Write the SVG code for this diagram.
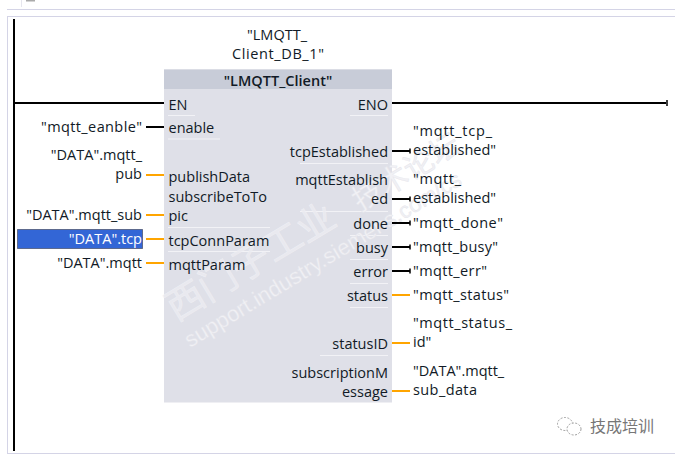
<svg xmlns="http://www.w3.org/2000/svg" width="675" height="456" viewBox="0 0 675 456">
<style>
text{font-family:"Open Sans","Noto Sans","Noto Sans CJK SC",sans-serif;font-size:14.5px;fill:#111a26}
.r{text-anchor:end}
.c{text-anchor:middle}
.wm{fill:#ebebf1;stroke:#f4f4f8;stroke-width:.4;opacity:.85}
.wo{fill:#f1f1f5;stroke:#e4e4ea;stroke-width:.4}
.frame{stroke:#d4d4e6;fill:none;stroke-width:1}
.b{stroke:#000;stroke-width:2;fill:none}
.o{stroke:#ffa500;stroke-width:2;fill:none}
.cap{stroke:#000;stroke-width:1.500;fill:none}
.sep{stroke:#f2f2f6;stroke-width:1;fill:none}
</style>
<rect width="675" height="456" fill="#fff"/>
<g id="frame">
<path class="frame" d="M675 9.500H7M7.500 16V453M7 16.500H675M7 453.500H675"/>
<path d="M21.500 0V7" stroke="#e6e6ee" fill="none"/>
<rect x="26" y="0" width="9" height="1.500" fill="#aaa"/>
<rect x="13" y="19" width="2" height="432" fill="#000"/>
</g>
<g id="block-body">
<rect x="164" y="69.500" width="228" height="333" fill="#dfe0e8"/>
<rect x="164" y="69.500" width="228" height="19.500" fill="#c8ccd8"/>
<path class="sep" d="M168 115.500H195M168 139H220M168 227.500H270M168 251.500H270M350 115.500H388M300 163.500H388M300 211.500H388M350 235.500H388M350 259.500H388M350 283.500H388M350 307.500H388M320 355.500H388"/>
</g>
<g id="watermark">
<text class="wm" transform="translate(176 322) rotate(-31)" style="font-size:38px;font-family:'Noto Sans CJK SC',sans-serif">西门子工业</text>
<text class="wo" transform="translate(190 348) rotate(-31)" style="font-size:22px;font-family:'Liberation Sans',sans-serif">support.industry.siemens.com/cs</text>
<text class="wo" transform="translate(360 212) rotate(-31)" style="font-size:30px;font-family:'Noto Sans CJK SC',sans-serif">技术论坛</text>
</g>
<g id="block">
<text class="c" x="278" y="86" style="font-weight:600">"LMQTT_Client"</text>
<text x="168.500" y="110">EN</text>
<text x="168.500" y="133">enable</text>
<text x="168.500" y="182">publishData</text>
<text x="168.500" y="202">subscribeToTo</text>
<text x="168.500" y="221">pic</text>
<text x="168.500" y="246">tcpConnParam</text>
<text x="168.500" y="270">mqttParam</text>
<text class="r" x="388" y="110">ENO</text>
<text class="r" x="388" y="157">tcpEstablished</text>
<text class="r" x="388" y="185">mqttEstablish</text>
<text class="r" x="388" y="204">ed</text>
<text class="r" x="388" y="229">done</text>
<text class="r" x="388" y="253">busy</text>
<text class="r" x="388" y="277">error</text>
<text class="r" x="388" y="301">status</text>
<text class="r" x="388" y="349">statusID</text>
<text class="r" x="388" y="378">subscriptionM</text>
<text class="r" x="388" y="397">essage</text>
</g>
<g id="instance">
<text class="c" x="277" y="40">"LMQTT_</text>
<text x="232" y="59" textLength="92">Client_DB_1"</text>
</g>
<g id="connectors">
<path class="b" d="M15 103H164M146 127H164M392 103H666M392 151H410M392 199H410M392 223H410M392 247H410M392 271H410"/>
<path class="o" d="M146 175H164M146 215H164M146 239H164M146 263H164M392 295H410M392 343H410M392 391H410"/>
<path class="cap" d="M667 100V106M410 148.500V153.500M410 196.500V201.500M410 220.500V225.500M410 244.500V249.500M410 268.500V273.500"/>
</g>
<g id="inputs">
<text x="41" y="132" textLength="101">"mqtt_eanble"</text>
<text class="r" x="142" y="160">"DATA".mqtt_</text>
<text class="r" x="142" y="179">pub</text>
<text class="r" x="142" y="220">"DATA".mqtt_sub</text>
<rect x="17.500" y="229.500" width="125" height="19" fill="#3366d6" stroke="#223" stroke-width="1" stroke-dasharray="1 1"/>
<text class="r" x="142" y="244" style="fill:#fff">"DATA".tcp</text>
<text class="r" x="142" y="268">"DATA".mqtt</text>
</g>
<g id="outputs">
<text x="413" y="136" textLength="79">"mqtt_tcp_</text>
<text x="413" y="155">established"</text>
<text x="413" y="184" textLength="48">"mqtt_</text>
<text x="413" y="203">established"</text>
<text x="413" y="228" textLength="90">"mqtt_done"</text>
<text x="413" y="252" textLength="85">"mqtt_busy"</text>
<text x="413" y="276" textLength="74">"mqtt_err"</text>
<text x="413" y="300" textLength="96">"mqtt_status"</text>
<text x="413" y="328" textLength="99">"mqtt_status_</text>
<text x="413" y="347">id"</text>
<text x="413" y="376">"DATA".mqtt_</text>
<text x="413" y="395" textLength="64">sub_data</text>
</g>
<g id="logo">
<ellipse cx="565" cy="424" rx="7.500" ry="6.500" fill="none" stroke="#888" stroke-width=".8" stroke-dasharray="2 1.500"/>
<ellipse cx="574" cy="429" rx="7" ry="6" fill="#fff" stroke="#888" stroke-width=".8" stroke-dasharray="2 1.500"/>
<text x="590" y="432" style="font-size:16px;fill:#777;font-family:'Noto Sans CJK SC',sans-serif">技成培训</text>
</g>
</svg>
